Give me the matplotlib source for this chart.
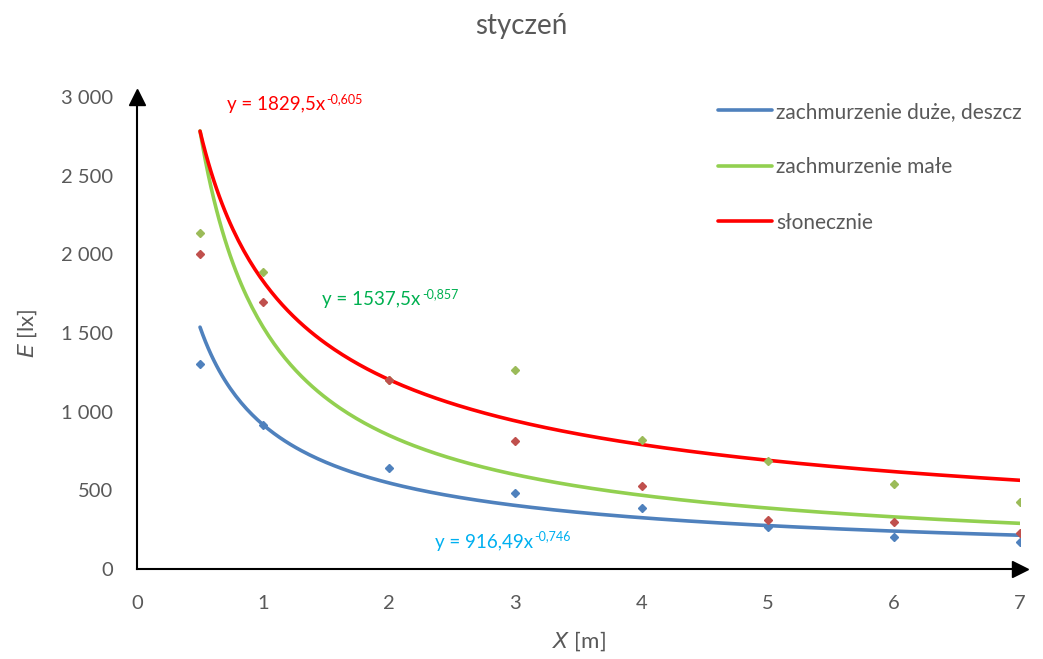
import numpy as np
import matplotlib.pyplot as plt

plt.rcParams['font.family'] = ['Lato', 'DejaVu Sans']

# measurement distances [m]
x_pts = [0.5, 1, 2, 3, 4, 5, 6, 7]

# illuminance [lx] for each weather condition
e_rain = [1300, 915, 642, 483, 388, 267, 203, 172]
e_cloudy = [2136, 1888, 1200, 1265, 820, 687, 540, 426]
e_sunny = [2000, 1700, 1200, 814, 528, 311, 299, 229]

# power trendlines y = a * x^b
fit_rain = (916.49, -0.746)
fit_cloudy = (1537.5, -0.857)
fit_sunny = (1829.5, -0.605)

labels = ['zachmurzenie duże, deszcz', 'zachmurzenie małe', 'słonecznie']

x_ticks = [0, 1, 2, 3, 4, 5, 6, 7]
y_ticks = [0, 500, 1000, 1500, 2000, 2500, 3000]
y_tick_labels = ['0', '500', '1 000', '1 500', '2 000', '2 500', '3 000']

gray = '#595959'
fig = plt.figure(figsize=(10.43, 6.59), dpi=100)
ax = fig.add_axes([0.1313, 0.1366, 0.8467, 0.7162])

xs = np.linspace(0.5, 7, 300)
series = [
    (e_rain, fit_rain, '#4F81BD', '#4F81BD'),
    (e_cloudy, fit_cloudy, '#9BBB59', '#92D050'),
    (e_sunny, fit_sunny, '#C0504D', '#FF0000'),
]
for (vals, (a, b), mcol, lcol), lab in zip(series, labels):
    ax.plot(x_pts, vals, linestyle='none', marker='D', markersize=4.5,
            color=mcol, zorder=3)
    ax.plot(xs, a * xs ** b, color=lcol, lw=2.6, label=lab, zorder=2,
            solid_capstyle='round')


def equation(x, y, a, b, color):
    # "y = a x" followed by the exponent as a raised smaller text
    a_txt = ('%g' % a).replace('.', ',')
    b_txt = ('%.3f' % b).replace('.', ',')
    base = ax.text(x, y, 'y = ' + a_txt + 'x', color=color, fontsize=13.5,
                   va='center', ha='left')
    ax.annotate(b_txt, xy=(1.01, 0.6), xycoords=base, va='baseline',
                ha='left', color=color, fontsize=9)


equation(0.71, 2950, *fit_sunny, '#FF0000')
equation(1.47, 1710, *fit_cloudy, '#00B050')
equation(2.36, 170, *fit_rain, '#00B0F0')

ax.set_xlim(0, 7)
ax.set_ylim(0, 3000)
ax.set_xticks(x_ticks)
ax.set_yticks(y_ticks)
ax.set_yticklabels(y_tick_labels)
ax.tick_params(length=0, labelsize=14.5, colors=gray)
ax.tick_params(axis='y', pad=17)
ax.tick_params(axis='x', pad=19)

for side in ['top', 'right']:
    ax.spines[side].set_visible(False)
for side in ['left', 'bottom']:
    ax.spines[side].set_linewidth(1.5)
    ax.spines[side].set_color('black')

# arrow heads at the ends of the axes
ax.plot(1, 0, '>k', markersize=11, transform=ax.transAxes, clip_on=False)
ax.plot(0, 1, '^k', markersize=11, transform=ax.transAxes, clip_on=False)

ax.set_xlabel('$\\it{X}$ [m]', fontsize=16, color=gray, labelpad=12)
ax.set_ylabel('$\\it{E}$ [lx]', fontsize=16, color=gray, labelpad=16)
fig.suptitle('styczeń', fontsize=20, color=gray, y=0.98)

ax.legend(loc='upper left', bbox_to_anchor=(0.658, 0.99), frameon=False,
          fontsize=15, labelspacing=1.7, handlelength=2.6,
          handletextpad=0.2, borderpad=0, borderaxespad=0, labelcolor=gray)

fig.savefig('out.png', dpi=100)
